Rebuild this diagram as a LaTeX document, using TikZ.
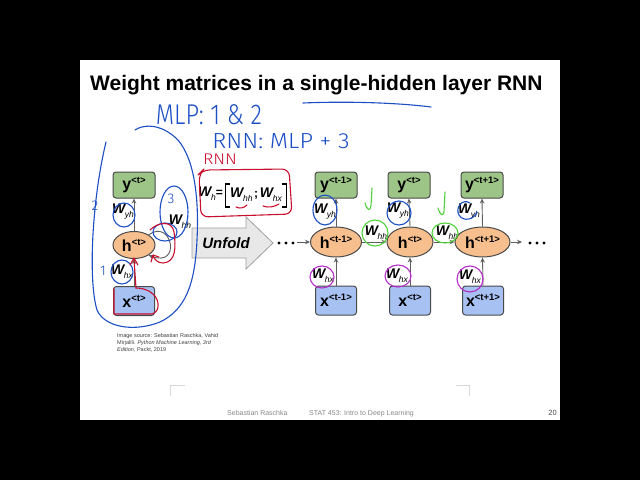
\documentclass[tikz,border=0pt]{standalone}
\usepackage{fontspec}
\setmainfont{Liberation Sans}
\newfontfamily\handfont{Fira Sans Light}
\usetikzlibrary{arrows.meta,shapes.geometric,calc}

\definecolor{boxgreen}{HTML}{9DC587}
\definecolor{hor}{HTML}{F7BF8E}
\definecolor{xblue}{HTML}{A6C1F2}
\definecolor{edgec}{HTML}{4A4A4A}
\definecolor{arrg}{HTML}{5F5F5F}
\definecolor{penblue}{HTML}{1C4FC4}
\definecolor{penred}{HTML}{C8102E}
\definecolor{penpurple}{HTML}{B52CC9}
\definecolor{pengreen}{HTML}{4FD13A}
\definecolor{footgray}{HTML}{8A8A8A}
\definecolor{unfoldfill}{HTML}{E8E8E8}
\definecolor{unfoldedge}{HTML}{A0A0A0}

\newcommand{\fsz}[1]{\fontsize{#1}{#1}\selectfont}
\newcommand{\Wl}[1]{{\fsz{14}\bfseries\itshape W}\kern-0.3pt\raisebox{-4pt}{\fsz{8.5}\itshape #1}}
\newcommand{\Vl}[2]{{\fsz{16}\bfseries #1}\raisebox{6pt}{\fsz{9.5}\bfseries #2}}

\tikzset{
  vbox/.style={draw=edgec, line width=1pt, rounded corners=3pt, minimum width=42, minimum height=26, inner sep=0},
  ybox/.style={vbox, fill=boxgreen},
  xbox/.style={vbox, fill=xblue, minimum height=29, minimum width=41},
  hnode/.style={ellipse, draw=edgec, line width=1pt, fill=hor, minimum height=30, inner sep=0},
  arr/.style={draw=arrg, line width=0.9pt, -{Stealth[length=5pt,width=4.5pt]}},
  pen/.style={line width=1.1pt, line cap=round, line join=round},
  lab/.style={inner sep=0, text=black},
  hand/.style={inner sep=0, font=\handfont},
  dot/.style={circle, fill=black, inner sep=0, minimum size=3.2},
}

\begin{document}
\begin{tikzpicture}[x=1pt,y=-1pt]
% background and slide
\fill[black] (0,0) rectangle (640,480);
\fill[white] (80,60) rectangle (560,420);
\useasboundingbox (0,0) rectangle (640,480);

% title
\node[anchor=base west, inner sep=0] (title) at (90,90) {\fsz{21}\bfseries Weight matrices in a single-hidden layer RNN};

% ---------- folded RNN ----------
\node[ybox] (ly) at (134,185) {\Vl{y}{<t>}};
\node[hnode, minimum width=42, minimum height=27] (lh) at (134,245) {\Vl{h}{<t>}};
\node[xbox] (lx) at (134,301) {\Vl{x}{<t>}};
\draw[arr] (lx.north) -- (lh.south);
\draw[arr] (lh.north) -- (ly.south);
\draw[arr] (lh.35) .. controls (172,218) and (182,268) .. (lh.-35);
\node[lab] (lwyh) at (123,212) {\Wl{yh}};
\node[lab] (lwhx) at (122,272) {\Wl{hx}};
\node[lab] (lwhh) at (180,222) {\Wl{hh}};

% ---------- equation ----------
\node[lab, anchor=east] (eqwh) at (216,194) {\Wl{h}};
\node[lab] (eqeq) at (219.5,193) {\fsz{12}\bfseries =};
\node[lab] (eqin) at (256,195) {\Wl{hh}\,{\fsz{12}\bfseries ;}\,\Wl{hx}};
\draw[line width=1.3pt] (230,184) -- (225.5,184) -- (225.5,207) -- (230,207);
\draw[line width=1.3pt] (282,184) -- (286.5,184) -- (286.5,207) -- (282,207);

% ---------- unfold arrow ----------
\draw[fill=unfoldfill, draw=unfoldedge, line width=0.8pt]
  (192,228) -- (246,228) -- (246,217) -- (273,243) -- (246,269) -- (246,258) -- (192,258) -- cycle;
\node[lab] (unfold) at (226,243) {\fsz{15}\bfseries\itshape Unfold};

% ---------- unfolded RNN ----------
\node[ybox] (y1) at (336,185) {\Vl{y}{<t-1>}};
\node[ybox] (y2) at (409,185) {\Vl{y}{<t>}};
\node[ybox] (y3) at (482,185) {\Vl{y}{<t+1>}};
\node[hnode, minimum width=51] (h1) at (336,242) {\Vl{h}{<t-1>}};
\node[hnode, minimum width=46] (h2) at (410,242) {\Vl{h}{<t>}};
\node[hnode, minimum width=55] (h3) at (482.5,242) {\Vl{h}{<t+1>}};
\node[xbox] (x1) at (336,300.5) {\Vl{x}{<t-1>}};
\node[xbox] (x2) at (410,300.5) {\Vl{x}{<t>}};
\node[xbox] (x3) at (483,300.5) {\Vl{x}{<t+1>}};

\node[dot] (dl1) at (279,243) {};
\node[dot] (dl2) at (286,243) {};
\node[dot] (dl3) at (293,243) {};
\node[dot] (dr1) at (530,243) {};
\node[dot] (dr2) at (537,243) {};
\node[dot] (dr3) at (544,243) {};
\coordinate (inl) at (297,242);
\coordinate (outr) at (522,242);

\draw[arr] (inl) -- (h1.west);
\draw[arr] (h1.east) -- (h2.west);
\draw[arr] (h2.east) -- (h3.west);
\draw[arr] (h3.east) -- (outr);
\foreach \i in {1,2,3}{
  \draw[arr] (x\i.north) -- (h\i.south);
  \draw[arr] (h\i.north) -- (y\i.south);
}
\node[lab] (wyh1) at (325,212) {\Wl{yh}};
\node[lab] (wyh2) at (398,211) {\Wl{yh}};
\node[lab] (wyh3) at (469,212) {\Wl{yh}};
\node[lab] (whx1) at (323,276) {\Wl{hx}};
\node[lab] (whx2) at (397,276) {\Wl{hx}};
\node[lab] (whx3) at (470,277) {\Wl{hx}};
\node[lab] (whh1) at (376,233) {\Wl{hh}};
\node[lab] (whh2) at (447,233) {\Wl{hh}};

% ---------- image source + footer ----------
\node[anchor=north west, inner sep=0, align=left, text=black!75, font=\fontsize{5.5}{7}\selectfont] (src) at (117,333)
  {Image source: Sebastian Raschka, Vahid\\
   Mirjalili. \textit{Python Machine Learning, 3rd}\\
   \textit{Edition}, Packt, 2019};
\node[anchor=base west, inner sep=0, text=footgray] (f1) at (227,415) {\fsz{7}Sebastian Raschka};
\node[anchor=base west, inner sep=0, text=footgray] (f2) at (309,415) {\fsz{7}STAT 453: Intro to Deep Learning};
\node[anchor=base east, inner sep=0, text=black!70] (f3) at (557,415) {\fsz{7.5}20};
\draw[black!15, line width=0.6pt] (185,385) -- (170,385) -- (170,396);
\draw[black!15, line width=0.6pt] (456,385) -- (469,385) -- (469,396);

% ---------- handwritten annotations ----------
\begin{scope}[penblue]
\draw[pen] (303,103) .. controls (350,101) and (400,103) .. (431,107);
\node[hand, text=penblue] (mlp) at (209,115) {\scalebox{1.08}[1.3]{\fsz{22}MLP: 1 \& 2}};
\node[hand, text=penblue] (rnnmlp) at (281,141) {\scalebox{1.25}[1.15]{\fsz{19}RNN: MLP + 3}};
\draw[pen] (135,130) .. controls (142,125) and (160,122) .. (178,140)
  .. controls (195,160) and (199,200) .. (197,240)
  .. controls (195,285) and (185,310) .. (160,322)
  .. controls (135,332) and (105,328) .. (97,310)
  .. controls (88,280) and (92,200) .. (106,142);
\node[hand, text=penblue] (n2) at (95,206) {\fsz{14}2};
\node[hand, text=penblue] (n1) at (103,271) {\fsz{14}1};
\node[hand, text=penblue] (n3) at (171,199) {\fsz{14}3};
\draw[pen] (124,215) ellipse [x radius=11, y radius=12];
\draw[pen] (122,272) ellipse [x radius=11, y radius=12];
\draw[pen] (174,212) ellipse [x radius=14, y radius=26];
\draw[pen] (165,232) ellipse [x radius=12, y radius=9];
\draw[pen] (325,210) ellipse [x radius=12, y radius=15];
\draw[pen] (399,213) ellipse [x radius=12, y radius=12];
\draw[pen] (470,203) .. controls (462,198) and (455,208) .. (459,215) .. controls (463,222) and (474,220) .. (477,212);
\end{scope}

\begin{scope}[penpurple]
\draw[pen] (322,277) ellipse [x radius=12, y radius=11];
\draw[pen] (398,276) ellipse [x radius=13, y radius=11];
\draw[pen] (470,279) ellipse [x radius=13, y radius=13];
\end{scope}

\begin{scope}[pengreen]
\draw[pen] (375,233) ellipse [x radius=13, y radius=13];
\draw[pen] (445,233) ellipse [x radius=13, y radius=10];
\draw[pen] (372,188) -- (371,206) .. controls (370,212) and (367,210) .. (365,203);
\draw[pen] (445,192) -- (444,212) .. controls (443,217) and (440,215) .. (438,208);
\end{scope}

\begin{scope}[penred]
\node[hand, text=penred] (rnnred) at (220,159) {\scalebox{1.25}[1.1]{\fsz{14}RNN}};
\draw[pen, rounded corners=7pt] (199,174) -- (203,170) -- (289,169) -- (292,214) -- (201,217) -- cycle;
\draw[pen] (236,207) .. controls (240,209) and (244,208) .. (247,205);
\draw[pen] (263,206) .. controls (268,208) and (274,207) .. (279,204);
\draw[pen] (114,289) -- (114,314) -- (152,314) .. controls (160,312) and (160,300) .. (153,294)
  .. controls (148,289) and (140,288) .. (136,288);
\draw[pen] (136,288) -- (134,259);
\draw[pen] (130,265) -- (134,258) -- (138,265);
\draw[pen] (150,230) .. controls (158,222) and (172,220) .. (174,232)
  .. controls (176,248) and (176,262) .. (163,263) .. controls (158,263) and (155,260) .. (153,256);
\draw[pen] (151,262) -- (153,255) -- (159,257);
\end{scope}
\end{tikzpicture}
\end{document}
